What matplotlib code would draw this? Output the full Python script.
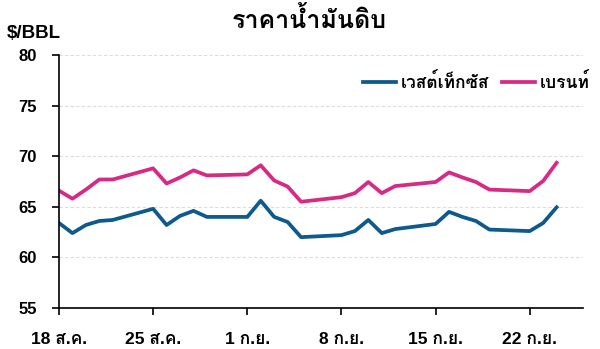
import matplotlib
matplotlib.use('Agg')
import matplotlib.pyplot as plt
import numpy as np
from matplotlib import font_manager
from matplotlib.ft2font import FT2Font

DATES = ['2025-08-18', '2025-08-19', '2025-08-20', '2025-08-21', '2025-08-22',
         '2025-08-25', '2025-08-26', '2025-08-27', '2025-08-28', '2025-08-29',
         '2025-09-01', '2025-09-02', '2025-09-03', '2025-09-04', '2025-09-05',
         '2025-09-08', '2025-09-09', '2025-09-10', '2025-09-11', '2025-09-12',
         '2025-09-15', '2025-09-16', '2025-09-17', '2025-09-18', '2025-09-19',
         '2025-09-22', '2025-09-23', '2025-09-24']
WTI = [63.4, 62.4, 63.2, 63.6, 63.7,
       64.8, 63.2, 64.1, 64.6, 64.0,
       64.0, 65.6, 64.0, 63.5, 62.0,
       62.2, 62.6, 63.7, 62.4, 62.8,
       63.3, 64.5, 64.0, 63.6, 62.75,
       62.6, 63.4, 64.95]
BRENT = [66.6, 65.8, 66.7, 67.7, 67.7,
         68.8, 67.3, 67.9, 68.6, 68.1,
         68.2, 69.1, 67.6, 67.0, 65.5,
         65.95, 66.35, 67.45, 66.35, 67.05,
         67.45, 68.4, 67.9, 67.45, 66.7,
         66.55, 67.55, 69.35]
TICK_DATES = ['2025-08-18', '2025-08-25', '2025-09-01', '2025-09-08', '2025-09-15', '2025-09-22']
TICK_LABELS = ['18 ส.ค.', '25 ส.ค.', '1 ก.ย.', '8 ก.ย.', '15 ก.ย.', '22 ก.ย.']
SERIES_NAMES = ['เวสต์เท็กซัส', 'เบรนท์']
TITLE = 'ราคาน้ำมันดิบ'


def find_thai_font():
    # look for any installed font that has Thai glyphs
    for f in font_manager.fontManager.ttflist:
        try:
            cmap = FT2Font(f.fname).get_charmap()
        except Exception:
            continue
        if 0x0E23 in cmap and 0x0E49 in cmap and 0x0E01 in cmap:
            return f.name
    return None


thai = find_thai_font()
families = ['Liberation Sans', 'DejaVu Sans']
if thai:
    families = ['Liberation Sans', thai, 'DejaVu Sans']
plt.rcParams['font.family'] = families

BLUE = '#0f5a8c'
PINK = '#d62a85'

fig = plt.figure(figsize=(6.0, 3.49), dpi=100)
ax = fig.add_axes([0.0983, 0.1175, 0.8733, 0.7249])

x = np.array(DATES, dtype='datetime64[D]')
ax.plot(x, WTI, color=BLUE, lw=2.7, label=SERIES_NAMES[0])
ax.plot(x, BRENT, color=PINK, lw=2.7, label=SERIES_NAMES[1])

ax.set_ylim(55, 80)
ax.set_yticks([55, 60, 65, 70, 75, 80])
ax.set_xlim(np.datetime64('2025-08-18'), np.datetime64('2025-09-26') - np.timedelta64(1, 'h'))
ax.set_xticks(np.array(TICK_DATES, dtype='datetime64[D]'))
ax.set_xticklabels(TICK_LABELS)

for y in [60, 65, 70, 75, 80]:
    ax.axhline(y, color='#dcdcdc', lw=0.8, ls=(0, (3, 2)), zorder=0)

for s in ['top', 'right']:
    ax.spines[s].set_visible(False)
for s in ['left', 'bottom']:
    ax.spines[s].set_linewidth(1.2)
ax.tick_params(axis='both', direction='out', length=5, width=1.2)
ax.tick_params(axis='y', pad=11, labelsize=12)
ax.tick_params(axis='x', pad=12, labelsize=12.5)
for lab in ax.get_xticklabels() + ax.get_yticklabels():
    lab.set_fontweight('bold')

fig.text(0.515, 0.942, TITLE, ha='center', va='center', fontsize=18, fontweight='bold')
fig.text(0.012, 0.905, '$/BBL', ha='left', va='center', fontsize=13.5, fontweight='bold')

ax.legend(loc='center right', bbox_to_anchor=(0.997, 0.766), bbox_transform=fig.transFigure,
          ncol=2, frameon=False, borderpad=0, handlelength=1.9, handletextpad=0.25,
          columnspacing=0.75, prop={'size': 12.5, 'weight': 'bold'})

fig.savefig('out.png', dpi=100)
